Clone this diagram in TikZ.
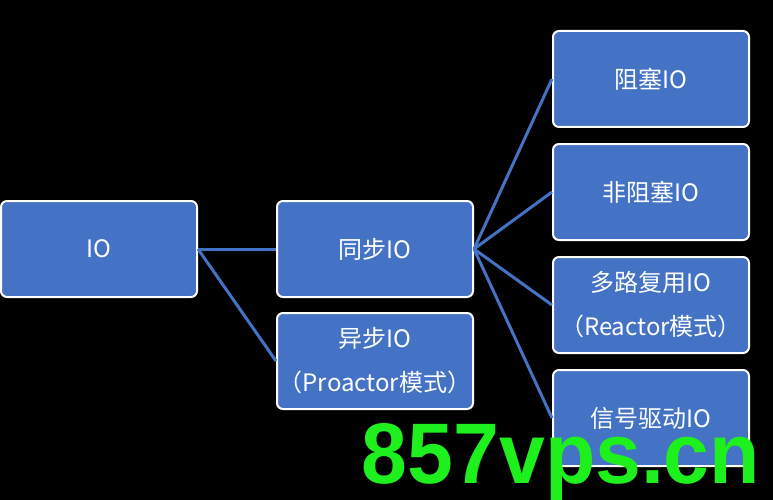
\documentclass[tikz,border=0pt]{standalone}
\usepackage{fontspec}
\setmainfont{Liberation Sans}
\newfontfamily\cjk{Noto Sans CJK SC}
\definecolor{boxblue}{HTML}{4472C4}
\definecolor{wm}{HTML}{1EF01E}
\begin{document}
\begin{tikzpicture}[x=1pt,y=-1pt,
  box/.style={draw=white,line width=2pt,fill=boxblue,rounded corners=6pt,minimum width=196pt,minimum height=96pt,text=white,font=\cjk\fontsize{24}{44}\selectfont,align=center,inner sep=0pt},
  conn/.style={draw=boxblue,line width=3pt}]
\fill[black] (0,0) rectangle (773,500);
\useasboundingbox (0,0) rectangle (773,500);
\node[box] (io) at (99,249) {IO};
\node[box] (sync) at (375,249) {同步IO};
\node[box] (async) at (375,361) {异步IO\\（Proactor模式）};
\node[box] (b1) at (651,79) {阻塞IO};
\node[box] (b2) at (651,192) {非阻塞IO};
\node[box] (b3) at (651,305) {多路复用IO\\（Reactor模式）};
\node[box] (b4) at (651,418) {信号驱动IO};
\draw[conn] (io.east) -- (sync.west);
\draw[conn] (io.east) -- (async.west);
\foreach \t in {b1,b2,b3,b4} \draw[conn] (sync.east) -- (\t.west);
\node[text=wm,font=\bfseries,inner sep=0pt] (w) at (561,462) {\resizebox{398pt}{60pt}{857vps.cn}};
\end{tikzpicture}
\end{document}
